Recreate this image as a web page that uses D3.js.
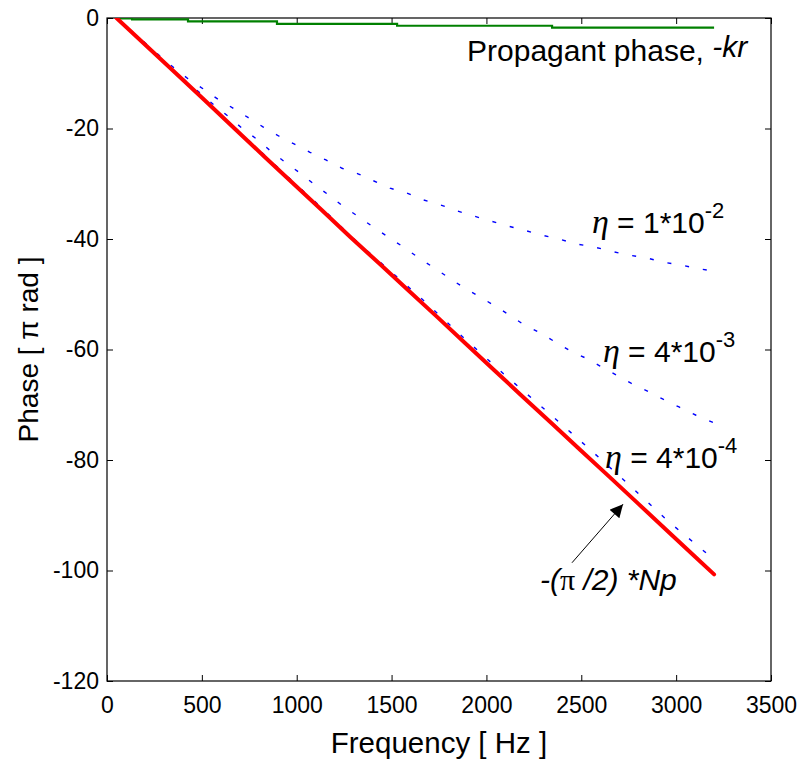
<!DOCTYPE html>
<html>
<head>
<meta charset="utf-8">
<script src="https://cdn.jsdelivr.net/npm/d3@7"></script>
<style>
  body { margin: 0; background: #fff; }
  svg { font-family: "Liberation Sans", Arial, Helvetica, sans-serif; }
</style>
</head>
<body>
<script>

// tick values
const xTicks = [0, 500, 1000, 1500, 2000, 2500, 3000, 3500];
const yTicks = [0, -20, -40, -60, -80, -100, -120];

// -(pi/2)*Np  [Hz, pi rad]
const redFreq  = [50, 200, 360, 515, 675, 833, 980, 1133, 1281, 1434, 1585, 1740, 1890, 2040, 2190, 2345, 2495, 2650, 2800, 2950, 3100, 3200];
const redPhase = [0, -4.8, -9.9, -14.9, -20.1, -25.2, -29.9, -34.8, -39.6, -44.4, -49.2, -54.1, -58.9, -63.7, -68.5, -73.4, -78.2, -83.1, -87.9, -92.7, -97.5, -100.7];

// propagant phase -kr (steps)
const greenFreq  = [60, 132, 427, 896, 1529, 2346, 3200];
const greenPhase = [-0.05, -0.25, -0.6, -1.05, -1.4, -1.75, -1.75];

// eta = 1e-2
const eta1Freq  = [50, 211, 279, 353, 427, 506, 585, 664, 743, 822, 907, 986, 1070, 1154, 1239, 1323, 1407, 1492, 1581, 1666, 1755, 1845, 1929, 2019, 2108, 2198, 2293, 2382, 2472, 2562, 2657, 2746, 2841, 2931, 3025, 3120, 3200];
const eta1Phase = [0, -4.8, -6.9, -9.0, -11.0, -12.8, -14.7, -16.3, -18.0, -19.7, -21.4, -22.8, -24.3, -25.7, -27.2, -28.2, -29.5, -30.8, -31.7, -32.9, -33.8, -34.9, -35.8, -36.7, -37.6, -38.4, -39.3, -40.0, -40.9, -41.4, -42.2, -42.9, -43.4, -44.2, -44.7, -45.4, -45.8];

// eta = 4e-3
const eta2Freq  = [50, 200, 360, 499, 569, 643, 717, 796, 870, 943, 1023, 1096, 1175, 1249, 1328, 1402, 1481, 1560, 1639, 1718, 1797, 1876, 1956, 2035, 2114, 2193, 2272, 2356, 2435, 2520, 2599, 2683, 2762, 2846, 2931, 3015, 3105, 3200];
const eta2Phase = [0, -4.8, -9.8, -13.8, -15.9, -17.9, -20.1, -22.1, -24.3, -26.2, -28.2, -30.2, -32.2, -34.2, -36.0, -37.8, -39.6, -41.4, -43.3, -45.1, -46.9, -48.7, -50.3, -51.9, -53.6, -55.4, -56.8, -58.5, -60.1, -61.5, -63.0, -64.6, -66.1, -67.5, -69.0, -70.4, -71.9, -73.3];

// eta = 4e-4
const eta3Freq  = [50, 500, 1000, 1139, 1286, 1360, 1434, 1655, 1871, 2087, 2309, 2530, 2746, 2962, 3189];
const eta3Phase = [0, -14.3, -30.2, -34.6, -39.5, -41.8, -44.0, -50.7, -57.6, -64.3, -70.9, -77.6, -84.3, -91.2, -97.7];

init();

function init() {
  let margin = {l: 107, r: 30, t: 18, b: 84},
      width = 801, height = 765,
      w = width - margin.l - margin.r,
      h = height - margin.t - margin.b;

  let svg = d3.select("body")
              .append("svg")
              .attr("width", width)
              .attr("height", height);

  let g = svg.append("g")
             .attr("transform", `translate(${margin.l},${margin.t})`);

  let x = d3.scaleLinear().domain([0, 3500]).range([0, w]);
  let y = d3.scaleLinear().domain([-120, 0]).range([h, 0]);

  svg.append("defs").append("clipPath")
     .attr("id", "plot-clip")
     .append("rect")
     .attr("width", w).attr("height", h);

  // axes
  let fmt = d => String(d);
  g.append("g").attr("transform", `translate(0,${h})`)
    .call(d3.axisBottom(x).tickValues(xTicks).tickFormat(fmt).tickSizeInner(-6).tickSizeOuter(0).tickPadding(16));
  g.append("g")
    .call(d3.axisLeft(y).tickValues(yTicks).tickFormat(fmt).tickSizeInner(-6).tickSizeOuter(0).tickPadding(8));
  g.append("g")
    .call(d3.axisTop(x).tickValues(xTicks).tickFormat("").tickSizeInner(-6).tickSizeOuter(0));
  g.append("g").attr("transform", `translate(${w},0)`)
    .call(d3.axisRight(y).tickValues(yTicks).tickFormat("").tickSizeInner(-6).tickSizeOuter(0));

  g.selectAll(".domain").remove();
  g.selectAll(".tick line").attr("stroke", "#000");
  g.selectAll(".tick text")
   .attr("font-size", 23)
   .attr("font-family", "'Liberation Sans', Arial, sans-serif")
   .attr("fill", "#000");

  g.append("rect")
   .attr("width", w).attr("height", h)
   .attr("fill", "none").attr("stroke", "#000").attr("stroke-width", 1.2);

  // lines
  let line = d3.line().x(d => x(d[0])).y(d => y(d[1]));
  let stepLine = d3.line().x(d => x(d[0])).y(d => y(d[1])).curve(d3.curveStepAfter);

  let plot = g.append("g").attr("clip-path", "url(#plot-clip)");

  plot.append("path")
      .datum(d3.zip(greenFreq, greenPhase))
      .attr("d", stepLine)
      .attr("fill", "none").attr("stroke", "#008000").attr("stroke-width", 2.2);

  [[eta1Freq, eta1Phase], [eta2Freq, eta2Phase], [eta3Freq, eta3Phase]].forEach(s => {
    plot.append("path")
        .datum(d3.zip(s[0], s[1]))
        .attr("d", line)
        .attr("fill", "none").attr("stroke", "#0000ff").attr("stroke-width", 1.4)
        .attr("stroke-dasharray", "4,14");
  });

  plot.append("path")
      .datum(d3.zip(redFreq, redPhase))
      .attr("d", line)
      .attr("fill", "none").attr("stroke", "#ff0000").attr("stroke-width", 4)
      .attr("stroke-linejoin", "round").attr("stroke-linecap", "round");

  // annotations
  let ann = g.append("g").attr("font-size", 30).attr("fill", "#000");

  let prop = ann.append("text").attr("x", x(1898)).attr("y", y(-7.8));
  prop.append("tspan").text("Propagant phase, ");
  prop.append("tspan").attr("font-style", "italic").attr("dy", -4).text("-kr");

  let etaLabel = (f, v, num, exp) => {
    let t = ann.append("text").attr("x", x(f)).attr("y", y(v));
    t.append("tspan").attr("font-family", "'Liberation Serif', 'Times New Roman', serif")
     .attr("font-style", "italic").attr("font-size", 34).text("η");
    t.append("tspan").text(" = " + num + "*10");
    t.append("tspan").attr("font-size", 22).attr("dy", -15).text(exp);
  };
  etaLabel(2556, -38.9, "1", "-2");
  etaLabel(2614, -62.3, "4", "-3");
  etaLabel(2625, -81.4, "4", "-4");

  let np = ann.append("text").attr("x", x(2282)).attr("y", y(-103.5)).attr("font-style", "italic");
  np.append("tspan").text("-(");
  np.append("tspan").attr("font-family", "'Liberation Serif', 'Times New Roman', serif").attr("font-style", "normal").text("π");
  np.append("tspan").text(" /2) *Np");

  // arrow
  svg.append("defs").append("marker")
     .attr("id", "arrowhead")
     .attr("viewBox", "0 0 10 10")
     .attr("refX", 10).attr("refY", 5)
     .attr("markerWidth", 18).attr("markerHeight", 13)
     .attr("markerUnits", "userSpaceOnUse")
     .attr("orient", "auto")
     .append("path").attr("d", "M0,0 L10,5 L0,10 Z").attr("fill", "#000");

  ann.append("line")
     .attr("x1", x(2451)).attr("y1", y(-98.6))
     .attr("x2", x(2720)).attr("y2", y(-88.0))
     .attr("stroke", "#000").attr("stroke-width", 1)
     .attr("marker-end", "url(#arrowhead)");

  // axis labels
  g.append("text")
   .attr("x", w / 2).attr("y", h + 72)
   .attr("text-anchor", "middle").attr("font-size", 29.5)
   .text("Frequency [ Hz ]");

  g.append("text")
   .attr("transform", `translate(${38 - margin.l},${h / 2}) rotate(-90)`)
   .attr("text-anchor", "middle").attr("font-size", 28)
   .text("Phase [ π rad ]");
}
</script>
</body>
</html>
